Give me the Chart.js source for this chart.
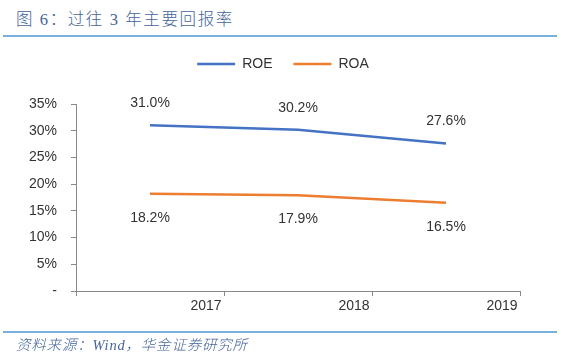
<!DOCTYPE html>
<html>
<head>
<meta charset="utf-8">
<script src="https://cdn.jsdelivr.net/npm/chart.js@4"></script>
<style>
  body { margin: 0; background: #fff; width: 575px; height: 364px; position: relative; overflow: hidden; }
  .title { position: absolute; left: 16px; top: 9px; font: 300 16.5px "Liberation Serif", "Noto Sans CJK SC", serif; color: #44659a; letter-spacing: 1.6px; line-height: 22px; white-space: nowrap; }
  .rule { position: absolute; left: 3px; width: 554px; background: #7ab0dc; }
  .foot { position: absolute; left: 16px; top: 335px; font: italic 300 14.5px "Liberation Serif", "Noto Sans CJK SC", serif; color: #44659a; letter-spacing: 0.8px; line-height: 20px; white-space: nowrap; }
  #c { position: absolute; left: 0; top: 0; }
</style>
</head>
<body>
<div class="title">图 6：过往 3 年主要回报率</div>
<div class="rule" style="top:35px;height:2px"></div>
<canvas id="c" width="575" height="364"></canvas>
<div class="rule" style="top:331px;height:1.5px"></div>
<div class="foot">资料来源：Wind，华金证券研究所</div>
<script>
const years = ['2017', '2018', '2019'];
const roe = [31.0, 30.2, 27.6];
const roa = [18.2, 17.9, 16.5];
const yTicks = [0, 5, 10, 15, 20, 25, 30, 35];

Chart.defaults.font.family = '"Liberation Sans", Arial, sans-serif';
Chart.defaults.font.size = 14;
Chart.defaults.color = '#333';

// value labels: ROE above the line, ROA below
const valueLabels = {
    id: 'valueLabels',
    afterDatasetsDraw(chart) {
        const ctx = chart.ctx;
        ctx.save();
        ctx.font = '14px "Liberation Sans", Arial, sans-serif';
        ctx.fillStyle = '#333';
        ctx.textAlign = 'center';
        ctx.textBaseline = 'middle';
        chart.data.datasets.forEach((ds, i) => {
            const meta = chart.getDatasetMeta(i);
            meta.data.forEach((pt, j) => {
                const dy = i === 0 ? -22 : 24;
                ctx.fillText(ds.data[j].toFixed(1) + '%', pt.x, pt.y + dy);
            });
        });
        ctx.restore();
    }
};

// nudge the legend a bit right and up, like the original
const legendNudge = {
    id: 'legendNudge',
    afterLayout(chart) {
        const lg = chart.legend;
        const dx = 10;
        const dy = 36 - lg.top;
        lg.left += dx; lg.right += dx;
        lg.top += dy; lg.bottom += dy;
    }
};

const ctx = document.getElementById('c').getContext('2d');
new Chart(ctx, {
    type: 'line',
    data: {
        labels: years,
        datasets: [
            {
                label: 'ROE',
                data: roe,
                borderColor: '#4472C4',
                backgroundColor: '#4472C4',
                borderWidth: 2.5,
                pointRadius: 0,
                tension: 0
            }, {
                label: 'ROA',
                data: roa,
                borderColor: '#ED7D31',
                backgroundColor: '#ED7D31',
                borderWidth: 2.5,
                pointRadius: 0,
                tension: 0
            }
        ]
    },
    options: {
        responsive: false,
        animation: false,
        devicePixelRatio: 1,
        layout: {
            padding: {left: 26, right: 55, top: 59, bottom: 48}
        },
        plugins: {
            legend: {
                position: 'top',
                labels: {
                    usePointStyle: true,
                    pointStyle: 'line',
                    pointStyleWidth: 38,
                    padding: 21,
                    color: '#333',
                    font: {size: 14}
                }
            },
            tooltip: {enabled: false}
        },
        scales: {
            x: {
                offset: true,
                grid: {
                    offset: true,
                    drawOnChartArea: false,
                    drawTicks: true,
                    tickLength: 5,
                    color: '#888'
                },
                border: {color: '#888', width: 1},
                ticks: {labelOffset: 56, padding: 2, color: '#333'},
                afterFit(scale) { scale.height = 25; }
            },
            y: {
                min: 0,
                max: 35,
                afterBuildTicks(scale) { scale.ticks = yTicks.map(v => ({value: v})); },
                grid: {
                    drawOnChartArea: false,
                    drawTicks: true,
                    tickLength: 5,
                    color: '#888'
                },
                border: {color: '#888', width: 1},
                ticks: {
                    padding: 14,
                    color: '#333',
                    callback: v => v === 0 ? '-' : v + '%'
                },
                afterFit(scale) { scale.width = 50; }
            }
        }
    },
    plugins: [valueLabels, legendNudge]
});
</script>
</body>
</html>
